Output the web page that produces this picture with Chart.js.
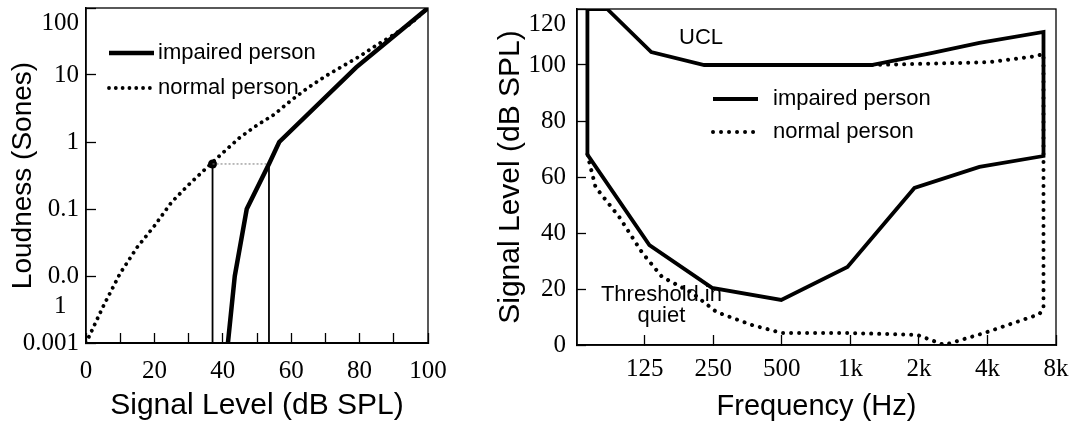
<!DOCTYPE html>
<html>
<head>
<meta charset="utf-8">
<script src="https://cdn.jsdelivr.net/npm/chart.js@4.4.1/dist/chart.umd.min.js"></script>
<style>
    body { margin: 0; background: #fff; }
    #loudness { position: absolute; left: 0; top: 0; }
    #hearing { position: absolute; left: 480px; top: 0; }
</style>
</head>
<body>
<canvas id="loudness" width="480" height="424"></canvas>
<canvas id="hearing" width="593" height="424"></canvas>
<script>
// left panel : loudness growth
const signalTicks = [0, 10, 20, 30, 40, 50, 60, 70, 80, 90, 100]
const signalTickLabels = ['0', '', '20', '', '40', '', '60', '', '80', '', '100']
const loudTicks = [0.001, 0.01, 0.1, 1, 10, 100]
const loudTickLabels = ['0.001', ['', '0.0', '1  '], '0.1', '1', '10', ['', '100']]

const normalLevel = [0, 5, 10, 15, 20, 25, 30, 35, 40, 45, 50, 55, 60, 65, 70, 75, 80, 85, 90, 95, 100]
const normalLoud = [0.001, 0.0035, 0.011, 0.027, 0.056, 0.126, 0.23, 0.40, 0.69, 1.17, 1.78, 2.57, 4.2, 6.5, 9.6, 13.5, 19, 28, 40, 59, 100]
const impairedLevel = [41.5, 43.5, 47, 53.5, 56.5, 79, 100]
const impairedLoud = [0.001, 0.01, 0.1, 0.47, 1, 13, 100]
const matchLevels = [37, 53.5]
const matchLoud = 0.47

// right panel : dynamic range
const freqTicks = [125, 250, 500, 1000, 2000, 4000, 8000]
const freqTickLabels = ['125', '250', '500', '1k', '2k', '4k', '8k']
const dbTicks = [0, 20, 40, 60, 80, 100, 120]
const dbTickLabels = ['0', '20', '40', '60', '80', '100', ['', '120']]

const impairedFreq = [70, 70, 85.5, 133.5, 228, 1237, 2293, 3688, 7050, 7050, 3688, 1911, 971, 497, 247, 131, 70]
const impairedDb = [68, 120, 120, 104.6, 100, 100, 104.3, 107.9, 111.8, 67.5, 63.6, 56.1, 27.9, 16.1, 20.4, 35.7, 68]
const normalFreq = [70, 76, 96.6, 122, 149, 202, 258, 371, 500, 980, 1970, 2585, 3880, 6760, 7050, 7050, 6570, 4080, 1237, 228]
const normalDb = [68, 56.4, 45.7, 32.9, 24.3, 18.6, 11.8, 7.1, 4.3, 4.3, 3.6, 0, 4.3, 11, 13.2, 104, 103.2, 101, 100, 100]

const sans = "'Liberation Sans', Arial, sans-serif"
const serif = "'Liberation Serif', 'Times New Roman', serif"

function pairs(xs, ys){
    return xs.map((x, i) => ({x : x, y : ys[i]}))
}

const frame = {
    id : 'frame',
    afterDraw(chart){
        const a = chart.chartArea
        const ctx = chart.ctx
        ctx.save()
        ctx.strokeStyle = '#000'
        ctx.lineWidth = 1.3
        ctx.strokeRect(a.left, a.top, a.right - a.left, a.bottom - a.top)
        ctx.restore()
    }
}

const legendLines = {
    id : 'legendLines',
    afterDraw(chart, args, opts){
        const ctx = chart.ctx
        ctx.save()
        ctx.font = opts.font
        ctx.fillStyle = '#000'
        ctx.textBaseline = 'middle'
        opts.labels.forEach((label, i) => {
            const ds = chart.data.datasets.find(d => d.label === label)
            const y = opts.y + i * opts.gap
            ctx.beginPath()
            ctx.strokeStyle = '#000'
            ctx.lineWidth = ds.borderWidth
            ctx.lineCap = ds.borderCapStyle || 'butt'
            ctx.setLineDash(ds.borderDash || [])
            ctx.moveTo(opts.x, y)
            ctx.lineTo(opts.x + opts.width, y)
            ctx.stroke()
            ctx.setLineDash([])
            ctx.fillText(label, opts.x + opts.width + opts.textGap, y)
        })
        ctx.restore()
    }
}

const notes = {
    id : 'notes',
    afterDatasetsDraw(chart, args, opts){
        if(!opts.items) return
        const ctx = chart.ctx
        ctx.save()
        ctx.font = opts.font
        ctx.fillStyle = '#000'
        ctx.textAlign = 'center'
        ctx.textBaseline = 'middle'
        opts.items.forEach(n => {
            ctx.fillText(n.text, chart.scales.x.getPixelForValue(n.x), chart.scales.y.getPixelForValue(n.y))
        })
        ctx.restore()
    }
}

const tickGrid = {
    drawOnChartArea : false,
    drawTicks : true,
    tickLength : -10,
    tickColor : '#000',
    tickWidth : 1.3
}

new Chart(document.getElementById('loudness'), {
    type : 'line',
    data : {
        datasets : [
            {
                label : 'normal person',
                data : pairs(normalLevel, normalLoud),
                borderColor : '#000',
                borderWidth : 3.8,
                borderDash : [0.01, 6.8],
                borderCapStyle : 'round',
                pointRadius : 0,
                tension : 0
            },
            {
                label : 'impaired person',
                data : pairs(impairedLevel, impairedLoud),
                borderColor : '#000',
                borderWidth : 4.5,
                pointRadius : 0,
                tension : 0
            },
            {
                label : 'match',
                data : pairs(matchLevels, [matchLoud, matchLoud]),
                borderColor : '#777',
                borderWidth : 1,
                borderDash : [2, 2],
                pointRadius : 0
            },
            {
                label : 'left',
                data : pairs([matchLevels[0], matchLevels[0]], [0.001, matchLoud]),
                borderColor : '#000',
                borderWidth : 1.8,
                pointRadius : [0, 4.5],
                pointBackgroundColor : '#000',
                pointBorderWidth : 0
            },
            {
                label : 'right',
                data : pairs([matchLevels[1], matchLevels[1]], [0.001, matchLoud]),
                borderColor : '#000',
                borderWidth : 1.8,
                pointRadius : 0
            }
        ]
    },
    plugins : [frame, legendLines],
    options : {
        responsive : false,
        animation : false,
        devicePixelRatio : 1,
        layout : {padding : {left : 0, top : 8, right : 52, bottom : 0}},
        plugins : {
            legend : {display : false},
            tooltip : {enabled : false},
            legendLines : {
                x : 109, y : 53, gap : 35, width : 45, textGap : 4,
                font : '22px ' + sans,
                labels : ['impaired person', 'normal person']
            }
        },
        scales : {
            x : {
                type : 'linear',
                min : 0, max : 100,
                afterBuildTicks : s => { s.ticks = signalTicks.map(v => ({value : v})) },
                afterFit : s => { s.height = 81; s.paddingLeft = 0; s.paddingRight = 0 },
                grid : tickGrid,
                border : {display : true, color : '#000', width : 2},
                ticks : {
                    autoSkip : false, maxRotation : 0, padding : 23,
                    color : '#000',
                    font : {family : serif, size : 25},
                    callback : (v, i) => signalTickLabels[i]
                },
                title : {
                    display : true,
                    text : 'Signal Level (dB SPL)',
                    color : '#000',
                    font : {family : sans, size : 30},
                    padding : {top : 0, bottom : 0}
                }
            },
            y : {
                type : 'logarithmic',
                min : 0.001, max : 100,
                afterBuildTicks : s => { s.ticks = loudTicks.map(v => ({value : v})) },
                afterFit : s => { s.width = 86; s.paddingTop = 0 },
                grid : tickGrid,
                border : {display : true, color : '#000', width : 1.5},
                ticks : {
                    autoSkip : false, padding : 17,
                    color : '#000',
                    font : {family : serif, size : 25},
                    callback : (v, i) => loudTickLabels[i]
                },
                title : {
                    display : true,
                    text : 'Loudness (Sones)',
                    color : '#000',
                    font : {family : sans, size : 28},
                    padding : {top : 6, bottom : 0}
                }
            }
        }
    }
})

new Chart(document.getElementById('hearing'), {
    type : 'line',
    data : {
        datasets : [
            {
                label : 'normal person',
                data : pairs(normalFreq, normalDb),
                borderColor : '#000',
                borderWidth : 4,
                borderDash : [0.01, 8],
                borderCapStyle : 'round',
                pointRadius : 0,
                tension : 0
            },
            {
                label : 'impaired person',
                data : pairs(impairedFreq, impairedDb),
                borderColor : '#000',
                borderWidth : 3.8,
                borderJoinStyle : 'miter',
                pointRadius : 0,
                tension : 0
            }
        ]
    },
    plugins : [frame, legendLines, notes],
    options : {
        responsive : false,
        animation : false,
        devicePixelRatio : 1,
        layout : {padding : {left : 0, top : 9, right : 17, bottom : 0}},
        plugins : {
            legend : {display : false},
            tooltip : {enabled : false},
            legendLines : {
                x : 233, y : 99, gap : 33, width : 45, textGap : 15,
                font : '22px ' + sans,
                labels : ['impaired person', 'normal person']
            },
            notes : {
                font : '22px ' + sans,
                items : [
                    {text : 'UCL', x : 221, y : 109.6},
                    {text : 'Threshold in', x : 148, y : 17.9},
                    {text : 'quiet', x : 148, y : 10.4}
                ]
            }
        },
        scales : {
            x : {
                type : 'logarithmic',
                min : 63, max : 8000,
                afterBuildTicks : s => { s.ticks = freqTicks.map(v => ({value : v})) },
                afterFit : s => { s.height = 79; s.paddingLeft = 0; s.paddingRight = 0 },
                grid : tickGrid,
                border : {display : true, color : '#000', width : 1.8},
                ticks : {
                    autoSkip : false, maxRotation : 0, padding : 19,
                    color : '#000',
                    font : {family : serif, size : 25},
                    callback : (v, i) => freqTickLabels[i]
                },
                title : {
                    display : true,
                    text : 'Frequency (Hz)',
                    color : '#000',
                    font : {family : sans, size : 29},
                    padding : {top : 0, bottom : 0}
                }
            },
            y : {
                type : 'linear',
                min : 0, max : 120,
                afterBuildTicks : s => { s.ticks = dbTicks.map(v => ({value : v})) },
                afterFit : s => { s.width = 97; s.paddingTop = 0 },
                grid : Object.assign({}, tickGrid, {tickLength : -9}),
                border : {display : true, color : '#000', width : 1.5},
                ticks : {
                    autoSkip : false, padding : 20,
                    color : '#000',
                    font : {family : serif, size : 25},
                    callback : (v, i) => dbTickLabels[i]
                },
                title : {
                    display : true,
                    text : 'Signal Level (dB SPL)',
                    color : '#000',
                    font : {family : sans, size : 30},
                    padding : {top : 13, bottom : 0}
                }
            }
        }
    }
})
</script>
</body>
</html>
